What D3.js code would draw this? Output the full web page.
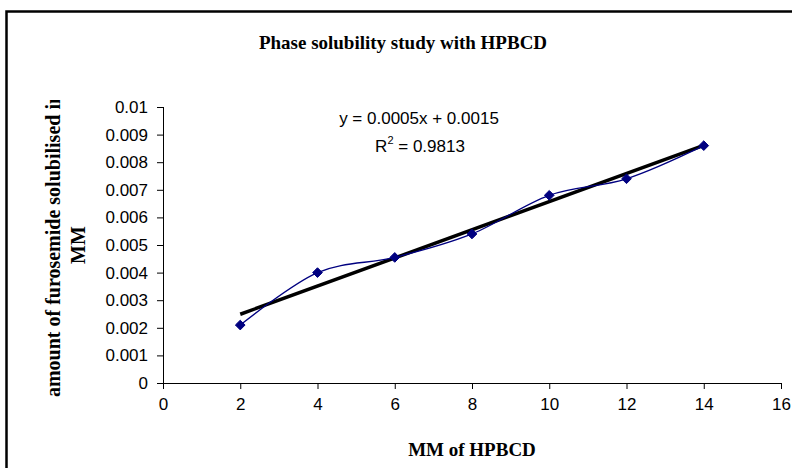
<!DOCTYPE html>
<html>
<head>
<meta charset="utf-8">
<script src="https://cdn.jsdelivr.net/npm/d3@7"></script>
<style>
  body { margin: 0; background: #fff; }
  svg { display: block; }
</style>
</head>
<body>
<div class="chart"></div>
<script>
let w = 792;
let h = 468;

// values
const hpbcd = [2, 4, 6, 8, 10, 12, 14];
const solubilised = [0.0021, 0.0040, 0.00455, 0.0054, 0.0068, 0.0074, 0.0086];
const xTicks = [0, 2, 4, 6, 8, 10, 12, 14, 16];
const yTicks = [0, 0.001, 0.002, 0.003, 0.004, 0.005, 0.006, 0.007, 0.008, 0.009, 0.01];
const eqText = "y = 0.0005x + 0.0015";
const r2Text = " = 0.9813";

const points = hpbcd.map(function(d, i){ return {x: d, y: solubilised[i]}; });

const x = d3.scaleLinear().domain([0, 16]).range([163, 781]);
const y = d3.scaleLinear().domain([0, 0.01]).range([383, 107]);

let svg = d3.select('.chart')
	.append('svg')
	.attr('width', w)
	.attr('height', h);

// chart area border (only top and left visible in frame)
svg.append('path')
	.attr('d', 'M6.5,' + h + ' V11.5 H' + (w + 5))
	.attr('fill', 'none')
	.attr('stroke', '#000')
	.attr('stroke-width', 2.5);

// title
svg.append('text')
	.text('Phase solubility study with HPBCD')
	.attr('x', 403)
	.attr('y', 49)
	.attr('text-anchor', 'middle')
	.attr('font-family', 'Liberation Serif, Times New Roman, serif')
	.attr('font-weight', 'bold')
	.attr('font-size', '19px');

// axes
const xAxis = d3.axisBottom(x).tickValues(xTicks).tickSize(6).tickPadding(9).tickFormat(d3.format('d'));
const yAxis = d3.axisLeft(y).tickValues(yTicks).tickSize(6).tickPadding(9)
	.tickFormat(function(d){ return d === 0 ? '0' : String(+d.toFixed(3)); });

let gx = svg.append('g').attr('transform', 'translate(0,383)').call(xAxis);
let gy = svg.append('g').attr('transform', 'translate(163,0)').call(yAxis);

[gx, gy].forEach(function(g){
	g.select('.domain').attr('stroke', '#000').attr('stroke-width', 1);
	g.selectAll('.tick line').attr('stroke', '#000');
	g.selectAll('text')
		.attr('font-family', 'Liberation Sans, Arial, sans-serif')
		.attr('font-size', '17px')
		.attr('fill', '#000');
});
gx.select('.domain').attr('d', 'M163,0.5H781');
gy.select('.domain').attr('d', 'M0.5,107V383');

// axis titles
svg.append('text')
	.text('MM of HPBCD')
	.attr('x', 472)
	.attr('y', 456)
	.attr('text-anchor', 'middle')
	.attr('font-family', 'Liberation Serif, Times New Roman, serif')
	.attr('font-weight', 'bold')
	.attr('font-size', '19px');

// y title is cut off at the top in the original
svg.append('clipPath').attr('id', 'ylabClip')
	.append('rect').attr('x', 0).attr('y', 100).attr('width', 150).attr('height', 368);

let ylab = svg.append('g')
	.attr('clip-path', 'url(#ylabClip)')
	.append('text')
	.attr('transform', 'translate(60,245) rotate(-90)')
	.attr('text-anchor', 'middle')
	.attr('font-family', 'Liberation Serif, Times New Roman, serif')
	.attr('font-weight', 'bold')
	.attr('font-size', '20px');
ylab.append('tspan').attr('x', 0).attr('y', 0).text('amount of furosemide solubilised in');
ylab.append('tspan').attr('x', 0).attr('y', 25).text('MM');

// fitted trendline (least squares from the data)
const xm = d3.mean(hpbcd), ym = d3.mean(solubilised);
const slope = d3.sum(points, function(d){ return (d.x - xm) * (d.y - ym); }) /
	d3.sum(points, function(d){ return (d.x - xm) * (d.x - xm); });
const icpt = ym - slope * xm;
const xr = d3.extent(hpbcd);

svg.append('line')
	.attr('x1', x(xr[0])).attr('y1', y(icpt + slope * xr[0]))
	.attr('x2', x(xr[1])).attr('y2', y(icpt + slope * xr[1]))
	.attr('stroke', '#000')
	.attr('stroke-width', 3.5);

// smoothed data line
const lineFun = d3.line()
	.x(function(d){ return x(d.x); })
	.y(function(d){ return y(d.y); })
	.curve(d3.curveCatmullRom.alpha(0));

svg.append('path')
	.attr('d', lineFun(points))
	.attr('fill', 'none')
	.attr('stroke', '#000080')
	.attr('stroke-width', 1.3);

svg.selectAll('.marker')
	.data(points)
	.enter()
	.append('path')
	.attr('class', 'marker')
	.attr('d', d3.symbol().type(d3.symbolDiamond2).size(60))
	.attr('transform', function(d){ return 'translate(' + x(d.x) + ',' + y(d.y) + ')'; })
	.attr('fill', '#000080')
	.attr('stroke', '#000080')
	.attr('stroke-width', 1);

// equation labels
svg.append('text')
	.text(eqText)
	.attr('x', 419)
	.attr('y', 124)
	.attr('text-anchor', 'middle')
	.attr('font-family', 'Liberation Sans, Arial, sans-serif')
	.attr('font-size', '17px');

let r2 = svg.append('text')
	.attr('x', 420)
	.attr('y', 152)
	.attr('text-anchor', 'middle')
	.attr('font-family', 'Liberation Sans, Arial, sans-serif')
	.attr('font-size', '17px');
r2.append('tspan').text('R');
r2.append('tspan').text('2').attr('font-size', '11px').attr('dy', -8);
r2.append('tspan').text(r2Text).attr('dy', 8);
</script>
</body>
</html>
